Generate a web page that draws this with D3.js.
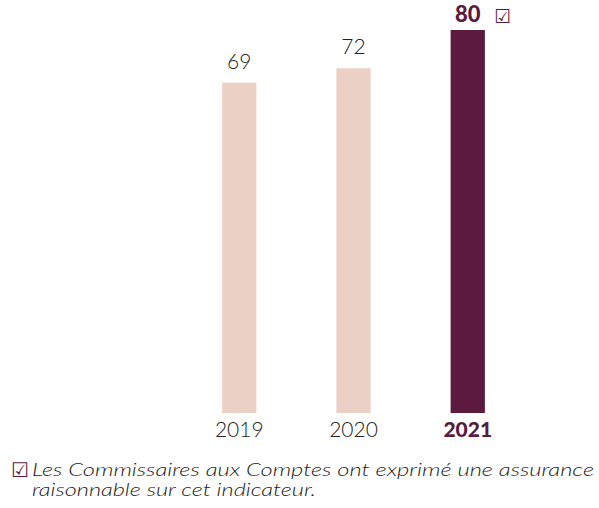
<!DOCTYPE html>
<html><head><meta charset="utf-8">
<script src="https://cdn.jsdelivr.net/npm/d3@7"></script>
<style>body{margin:0;background:#fff}svg{display:block}</style>
</head><body>
<svg id="c" width="599" height="508"></svg>
<script>
const years = ["2019", "2020", "2021"];
const values = [69, 72, 80];
const highlight = [false, false, true];
const footLines = ["Les Commissaires aux Comptes ont exprimé une assurance", "raisonnable sur cet indicateur."];

const light = "#ebd0c6", dark = "#5b1a3e", txt = "#222";
const font = "Lato, 'DejaVu Sans', sans-serif";
const svg = d3.select("#c");
const x = d3.scaleBand().domain(years).range([165, 542]).paddingInner(0.7).paddingOuter(0.5);
const y = d3.scaleLinear().domain([0, 80]).range([413, 30]);

svg.selectAll("rect.bar").data(years).join("rect")
  .attr("x", d => x(d)).attr("width", x.bandwidth())
  .attr("y", (d, i) => y(values[i])).attr("height", (d, i) => y(0) - y(values[i]))
  .attr("fill", (d, i) => highlight[i] ? dark : light);

svg.selectAll("text.val").data(years).join("text")
  .attr("x", d => x(d) + x.bandwidth() / 2)
  .attr("y", (d, i) => y(values[i]) - (highlight[i] ? 8 : 14))
  .attr("text-anchor", "middle")
  .attr("font-family", font)
  .attr("font-size", (d, i) => highlight[i] ? 22 : 21)
  .attr("font-weight", (d, i) => highlight[i] ? 900 : 300)
  .attr("fill", (d, i) => highlight[i] ? dark : txt)
  .text((d, i) => values[i]);

// checkbox next to highlighted value
years.forEach((d, i) => {
  if (highlight[i]) {
    svg.append("text").attr("x", x(d) + x.bandwidth() + 9).attr("y", y(values[i]) - 7)
      .attr("font-family", "'DejaVu Sans', sans-serif").attr("font-size", 19)
      .attr("fill", dark).text("☑");
  }
});

const xAxis = svg.append("g").attr("transform", `translate(0,${y(0)})`)
  .call(d3.axisBottom(x).tickSize(0).tickPadding(24));
xAxis.select(".domain").remove();
xAxis.selectAll("text")
  .attr("font-family", font)
  .attr("font-size", 21)
  .attr("font-weight", (d, i) => highlight[i] ? 900 : 300)
  .attr("fill", (d, i) => highlight[i] ? dark : txt)
  .attr("dy", 0);

svg.append("text").attr("x", 11).attr("y", 477)
  .attr("font-family", "'DejaVu Sans', sans-serif").attr("font-size", 20)
  .attr("fill", dark).text("☑");
const footLen = [562, 284];
const foot = svg.append("text")
  .attr("font-family", font).attr("font-size", 17).attr("font-style", "italic").attr("font-weight", 300)
  .attr("fill", txt);
foot.selectAll("tspan").data(footLines).join("tspan")
  .attr("x", 32).attr("y", (d, i) => 476 + i * 20)
  .attr("textLength", (d, i) => footLen[i]).attr("lengthAdjust", "spacingAndGlyphs")
  .text(d => d);
</script>
</body></html>
